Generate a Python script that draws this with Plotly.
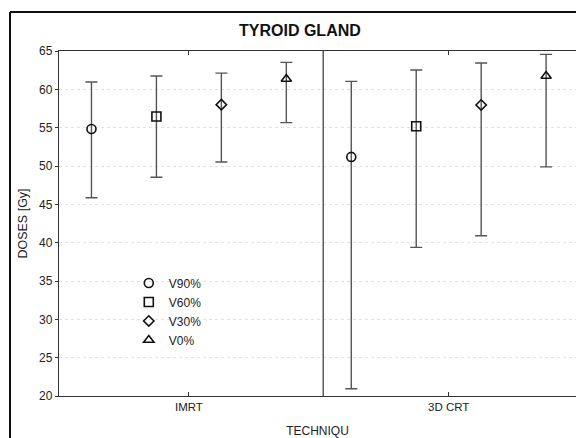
import plotly.graph_objects as go

techniques = ["IMRT", "3D CRT"]
series_names = ["V90%", "V60%", "V30%", "V0%"]
means = {
    "V90%": [54.83, 51.19],
    "V60%": [56.45, 55.18],
    "V30%": [58.00, 57.96],
    "V0%": [61.34, 61.73],
}
upper = {
    "V90%": [60.95, 61.04],
    "V60%": [61.73, 62.52],
    "V30%": [62.12, 63.43],
    "V0%": [63.52, 64.56],
}
lower = {
    "V90%": [45.85, 20.94],
    "V60%": [48.54, 39.39],
    "V30%": [50.53, 40.90],
    "V0%": [55.66, 49.88],
}
symbols = {"V90%": "circle-open", "V60%": "square-open",
           "V30%": "diamond-open", "V0%": "triangle-up-open"}
sizes = {"V90%": 9, "V60%": 9, "V30%": 8, "V0%": 9}

FONT = "Arial, Liberation Sans, sans-serif"

fig = go.Figure()
for name in series_names:
    m = means[name]
    fig.add_trace(go.Scatter(
        x=techniques, y=m, name=name, mode="markers",
        offsetgroup=name,
        marker=dict(symbol=symbols[name], size=sizes[name], color="#111111",
                    line=dict(width=1.6, color="#111111")),
        error_y=dict(type="data", symmetric=False,
                     array=[u - v for u, v in zip(upper[name], m)],
                     arrayminus=[v - l for v, l in zip(m, lower[name])],
                     color="#555555", thickness=1.4, width=6),
    ))

fig.update_layout(
    width=576, height=438,
    margin=dict(l=59, r=0, t=51, b=42, autoexpand=False),
    paper_bgcolor="white", plot_bgcolor="white",
    scattermode="group", scattergap=0,
    font=dict(family=FONT, size=12, color="#222222"),
    title=dict(text="<b>TYROID GLAND</b>", x=0.466, xref="paper", xanchor="center",
               y=1 - 30 / 438, yanchor="middle",
               font=dict(family=FONT, size=16, color="#111111")),
    showlegend=True,
    legend=dict(x=0.135, xanchor="left", y=0.245, yanchor="middle",
                bgcolor="rgba(0,0,0,0)", font=dict(family=FONT, size=12, color="#222222"),
                tracegroupgap=0, itemwidth=30),
)
fig.update_xaxes(
    type="category", range=[-0.5, 1.49], automargin=False,
    showline=True, linecolor="#333333", linewidth=1.3, mirror="ticks",
    ticks="inside", ticklen=4, tickcolor="#333333",
    showgrid=False, zeroline=False,
    title=dict(text="TECHNIQU", font=dict(family=FONT, size=12, color="#222222"), standoff=15),
    tickfont=dict(family=FONT, size=11.5, color="#222222"),
)
fig.update_yaxes(
    range=[20, 65], tickmode="linear", tick0=20, dtick=5, automargin=False,
    showline=True, linecolor="#333333", linewidth=1.3, mirror="ticks",
    ticks="outside", ticklen=3, tickcolor="#333333",
    showgrid=True, gridcolor="#e2e2e2", gridwidth=1, griddash="dot",
    zeroline=False,
    title=dict(text="DOSES [Gy]", font=dict(family=FONT, size=12.5, color="#222222"), standoff=8),
    tickfont=dict(family=FONT, size=12, color="#222222"),
)
# separator between techniques
fig.add_shape(type="line", xref="paper", yref="paper", x0=0.511, x1=0.511, y0=0, y1=1,
              line=dict(color="#333333", width=1.2))
# outer frame (left and top edges of the surrounding box)
fig.add_shape(type="line", xref="paper", yref="paper",
              x0=-49 / 517, x1=-49 / 517, y0=-42 / 345, y1=(396 - 12) / 345,
              line=dict(color="#111111", width=2))
fig.add_shape(type="line", xref="paper", yref="paper",
              x0=-49 / 517, x1=1.02, y0=(396 - 12) / 345, y1=(396 - 12) / 345,
              line=dict(color="#111111", width=2))

fig.write_html("out.html", config={"displayModeBar": False},
               post_script="document.body.style.margin='0';document.body.style.overflow='hidden';")
